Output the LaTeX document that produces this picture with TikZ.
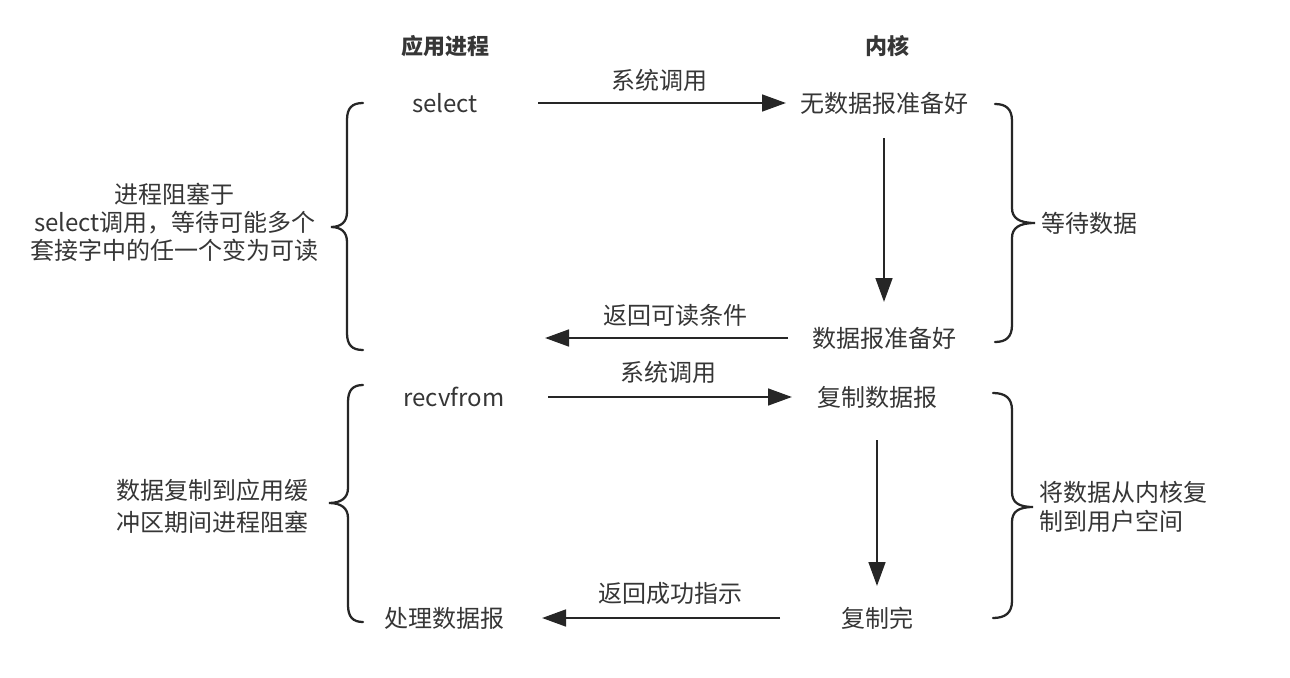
\documentclass[tikz,border=0pt]{standalone}
\usepackage{fontspec}
\setmainfont{Noto Sans CJK SC}
\usetikzlibrary{arrows.meta}
\definecolor{txt}{HTML}{363636}
\definecolor{ln}{HTML}{262626}
\begin{document}
\begin{tikzpicture}[x=0.75pt,y=-0.75pt,
  lbl/.style={inner sep=0pt, text=txt, font=\fontsize{18}{22}\selectfont},
  head/.style={inner sep=0pt, text=txt, font=\fontsize{16.5}{20}\selectfont\bfseries},
  flow/.style={draw=ln, line width=2pt, -{Triangle[length=18pt,width=12.5pt]}},
  brc/.style={draw=ln, line width=1.7pt, line cap=round}]
\useasboundingbox (0,0) rectangle (1290,678);
\fill[white] (0,0) rectangle (1290,678);

% headings
\node[head] (h1) at (445,46) {应用进程};
\node[head] (h2) at (887,46) {内核};

% process / kernel states
\node[lbl] (sel) at (445,103) {select};
\node[lbl] (nd)  at (884,103) {无数据报准备好};
\node[lbl] (dr)  at (884,338) {数据报准备好};
\node[lbl] (rf)  at (454,397) {recvfrom};
\node[lbl] (cp)  at (877,397) {复制数据报};
\node[lbl] (cd)  at (877,618) {复制完};
\node[lbl] (pr)  at (444,618) {处理数据报};
\coordinate (r1) at (545,338);

% arrow labels
\node[lbl] (l1) at (659,80)  {系统调用};
\node[lbl] (l2) at (675,315) {返回可读条件};
\node[lbl] (l3) at (668,372) {系统调用};
\node[lbl] (l4) at (670,593) {返回成功指示};

% arrows
\draw[flow, shorten <=69.75pt, shorten >=73.5pt] (sel.center) -- (nd.center);
\draw[flow, shorten <=26.25pt, shorten >=27pt] (nd.center) -- (dr.center);
\draw[flow, shorten <=72pt] (dr.center) -- (r1);
\draw[flow, shorten <=70.5pt, shorten >=63.75pt] (rf.center) -- (cp.center);
\draw[flow, shorten <=32.25pt, shorten >=24pt] (cp.center) -- (cd.center);
\draw[flow, shorten <=72.75pt, shorten >=73.5pt] (cd.center) -- (pr.center);

% braces
\draw[brc] (363,103) .. controls (352,103) and (347,108) .. (347,120)
  -- (347,212) .. controls (347,222) and (341,227) .. (331,227)
  .. controls (341,227) and (347,232) .. (347,242)
  -- (347,333) .. controls (347,345) and (352,350) .. (363,350);
\draw[brc] (363,385) .. controls (353,385) and (348,390) .. (348,402)
  -- (348,488) .. controls (348,498) and (341,503) .. (329,503)
  .. controls (341,503) and (348,508) .. (348,518)
  -- (348,605) .. controls (348,617) and (353,622) .. (363,622);
\draw[brc] (995,104) .. controls (1006,104) and (1012,109) .. (1012,121)
  -- (1012,208) .. controls (1012,218) and (1019,223) .. (1035,223)
  .. controls (1019,223) and (1012,228) .. (1012,238)
  -- (1012,325) .. controls (1012,337) and (1006,342) .. (995,342);
\draw[brc] (993,393) .. controls (1005,393) and (1012,398) .. (1012,410)
  -- (1012,492) .. controls (1012,502) and (1018,507) .. (1033,507)
  .. controls (1018,507) and (1012,512) .. (1012,522)
  -- (1012,601) .. controls (1012,613) and (1005,618) .. (993,618);

% side notes
\node[lbl, align=center, font=\fontsize{18}{21}\selectfont] (t1) at (175,222)
  {进程阻塞于\\select调用，等待可能多个\\套接字中的任一个变为可读};
\node[lbl, align=center, font=\fontsize{18}{24}\selectfont] (t2) at (212,506)
  {数据复制到应用缓\\冲区期间进程阻塞};
\node[lbl, anchor=west] (t3) at (1041,223) {等待数据};
\node[lbl, align=left, anchor=west, font=\fontsize{18}{22}\selectfont] (t4) at (1039,507)
  {将数据从内核复\\制到用户空间};
\end{tikzpicture}
\end{document}
